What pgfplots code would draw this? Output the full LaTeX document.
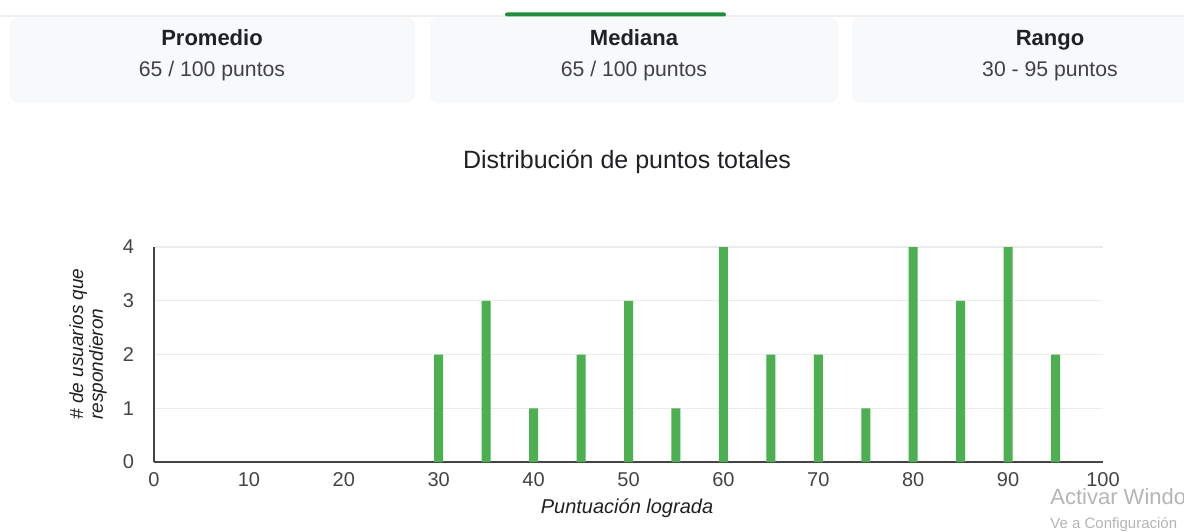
\documentclass[border=0pt]{standalone}
\usepackage{pgfplots}
\pgfplotsset{compat=1.18}
\usepackage{fontspec}
\setmainfont{Liberation Sans}
\definecolor{barGreen}{HTML}{4CAF50}
\definecolor{topGreen}{HTML}{1E8E3E}
\definecolor{cardBg}{HTML}{F8F9FA}
\definecolor{gridGray}{HTML}{EBEBEB}
\definecolor{axisGray}{HTML}{444444}
\definecolor{txt}{HTML}{202124}
\definecolor{tick}{HTML}{444444}
\definecolor{wm}{HTML}{B5B5B5}
\begin{document}
\begin{tikzpicture}
\clip (0,0) rectangle (592pt,-265.5pt);
\path[use as bounding box] (0,0) rectangle (592pt,-265.5pt);
\fill[white] (0,0) rectangle (592pt,-265.5pt);
% cards
\fill[cardBg, rounded corners=4pt] (5pt,-8.5pt) rectangle (207.5pt,-51.5pt);
\fill[cardBg, rounded corners=4pt] (215pt,-8.5pt) rectangle (419pt,-51.5pt);
\fill[cardBg, rounded corners=4pt] (426pt,-8.5pt) rectangle (610pt,-51.5pt);
\draw[gridGray!80!gray!40, line width=0.8pt] (0,-8pt) -- (592pt,-8pt);
\fill[topGreen, rounded corners=1pt] (252.5pt,-8.2pt) rectangle (363pt,-6.2pt);
\node[txt, anchor=base, font=\fontsize{11}{13}\selectfont\bfseries] at (106pt,-22.5pt) {Promedio};
\node[txt!85, anchor=base, font=\fontsize{10.6}{12}\selectfont] at (106pt,-38pt) {65 / 100 puntos};
\node[txt, anchor=base, font=\fontsize{11}{13}\selectfont\bfseries] at (317pt,-22.5pt) {Mediana};
\node[txt!85, anchor=base, font=\fontsize{10.6}{12}\selectfont] at (317pt,-38pt) {65 / 100 puntos};
\node[txt, anchor=base, font=\fontsize{11}{13}\selectfont\bfseries] at (525pt,-22.5pt) {Rango};
\node[txt!85, anchor=base, font=\fontsize{10.6}{12}\selectfont] at (525pt,-38pt) {30 - 95 puntos};
% title
\node[txt, font=\fontsize{12.5}{14}\selectfont] at (313.5pt,-81pt) {Distribución de puntos totales};
% axis
\begin{axis}[
  at={(77pt,-231pt)}, anchor=south west,
  scale only axis, width=474.5pt, height=107.5pt,
  xmin=0, xmax=100, ymin=0, ymax=4,
  xtick={0,10,...,100}, ytick={0,1,2,3,4},
  ymajorgrids, grid style={gridGray, line width=0.6pt},
  axis lines*=left,
  axis line style={axisGray, line width=0.8pt},
  major tick length=0pt,
  /pgf/number format/assume math mode=true,
  ticklabel style={font=\fontsize{10}{12}\selectfont, text=tick},
  yticklabel style={xshift=-6.5pt},
  xticklabel style={yshift=-1.5pt},
  ybar, bar width=4.5pt,
  clip=false,
]
\addplot[fill=barGreen, draw=none, bar shift=0pt] coordinates {
(30,2) (35,3) (40,1) (45,2) (50,3) (55,1) (60,4) (65,2) (70,2) (75,1) (80,4) (85,3) (90,4) (95,2)
};
\end{axis}
% axis titles
\node[txt, rotate=90, align=left, font=\fontsize{9.5}{8.5}\selectfont\itshape, anchor=center] at (44pt,-172pt) {\# de usuarios que\\respondieron};
\node[txt, font=\fontsize{10}{12}\selectfont\itshape] at (313.5pt,-254pt) {Puntuación lograda};
% watermark
\node[wm, anchor=base west, font=\fontsize{11}{13}\selectfont, inner sep=0] at (525pt,-252pt) {Activar Windows};
\node[wm, anchor=base west, font=\fontsize{7.5}{9}\selectfont, inner sep=0] at (525pt,-264pt) {Ve a Configuración};
\end{tikzpicture}
\end{document}
